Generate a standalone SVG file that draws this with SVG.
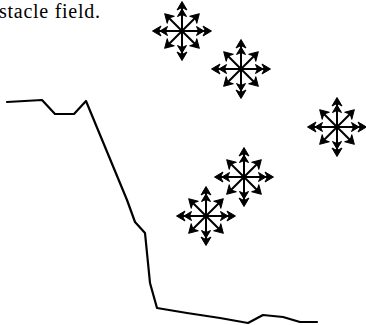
<svg xmlns="http://www.w3.org/2000/svg" xmlns:xlink="http://www.w3.org/1999/xlink" width="366" height="325" viewBox="0 0 366 325">
<style>
.ln{fill:none;stroke:#000;stroke-width:2.2;stroke-linejoin:round;stroke-linecap:round}
.sh{stroke:#000;stroke-width:2;fill:none}
.hd{fill:#000;stroke:#000;stroke-width:1;stroke-linejoin:round}
.t{font-family:"Liberation Serif","Times New Roman",serif;font-size:20px;fill:#000}
</style>
<defs>
<g id="arrO">
<line class="sh" x1="0" y1="0" x2="0" y2="-27"/>
<path class="hd" d="M0,-29.5 L-5,-21 L0,-23.5 L5,-21 Z"/>
<path class="hd" d="M0,-22 L-4.5,-14.5 L0,-16.5 L4.5,-14.5 Z"/>
</g>
<g id="arrD">
<line class="sh" x1="0" y1="0" x2="0" y2="-22"/>
<path class="hd" d="M0,-24.5 L-5,-16 L0,-18.5 L5,-16 Z"/>
</g>
<g id="star">
<use xlink:href="#arrO"/>
<use xlink:href="#arrO" transform="rotate(90)"/>
<use xlink:href="#arrO" transform="rotate(180)"/>
<use xlink:href="#arrO" transform="rotate(270)"/>
<use xlink:href="#arrD" transform="rotate(45)"/>
<use xlink:href="#arrD" transform="rotate(135)"/>
<use xlink:href="#arrD" transform="rotate(225)"/>
<use xlink:href="#arrD" transform="rotate(315)"/>
</g>
</defs>
<rect width="366" height="325" fill="#fff"/>
<text class="t" x="-1" y="18" textLength="101" lengthAdjust="spacing">stacle field.</text>
<g id="boundary">
<path class="ln" d="M7,102 L42,100 L55,114 L74,114 L86,101 L127,200 L135,222 L145,233 L147,253 L150,283 L157,308 L187,313 L220,318 L248,323 L263,315 L283,317 L300,322 L317,322"/>
</g>
<g id="obstacle1"><use xlink:href="#star" transform="translate(182,31)"/></g>
<g id="obstacle2"><use xlink:href="#star" transform="translate(241,69)"/></g>
<g id="obstacle3"><use xlink:href="#star" transform="translate(337,127)"/></g>
<g id="obstacle4"><use xlink:href="#star" transform="translate(244,177)"/></g>
<g id="obstacle5"><use xlink:href="#star" transform="translate(206,216)"/></g>
</svg>
